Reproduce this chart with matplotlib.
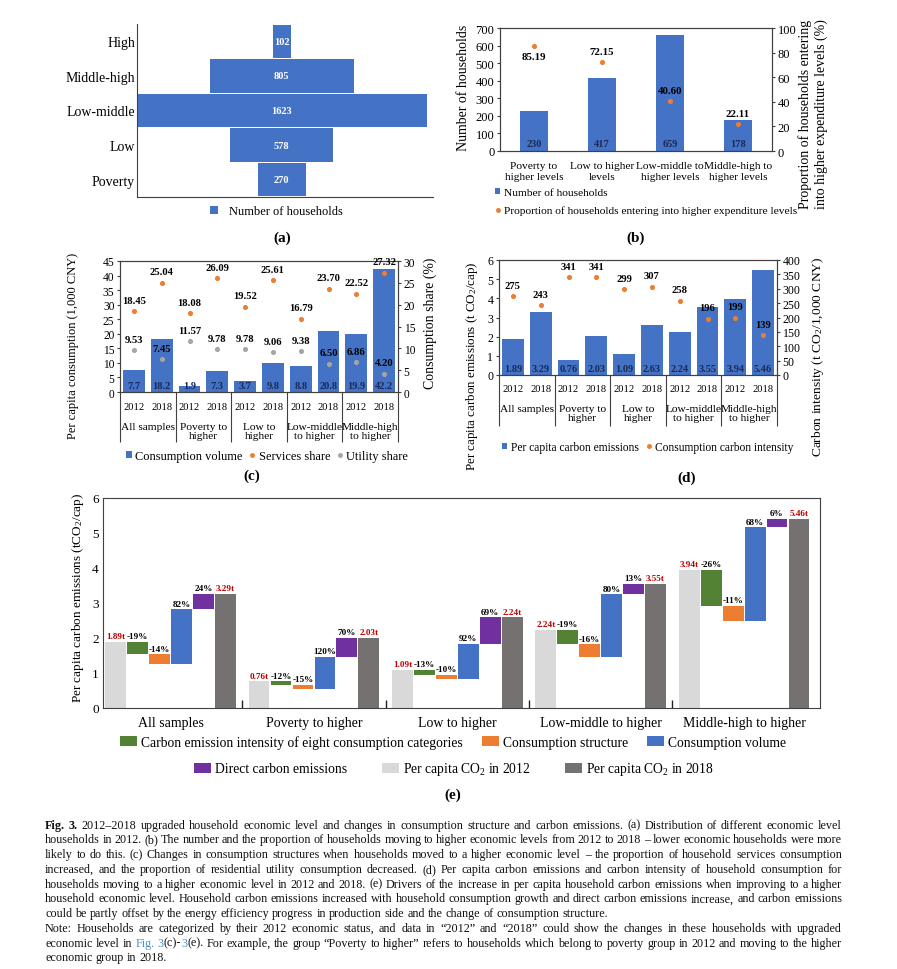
import numpy as np
import matplotlib
matplotlib.use('Agg')
import matplotlib.pyplot as plt
from matplotlib.lines import Line2D

plt.rcParams['font.family'] = ['Liberation Serif', 'DejaVu Serif']
plt.rcParams['mathtext.fontset'] = 'custom'
plt.rcParams['mathtext.rm'] = 'Liberation Serif'
plt.rcParams['mathtext.it'] = 'Liberation Serif:italic'
plt.rcParams['mathtext.bf'] = 'Liberation Serif:bold'

# (a) households by economic level in 2012
levels_a = ['Poverty', 'Low', 'Low-middle', 'Middle-high', 'High']
households_a = [270, 578, 1623, 805, 102]

# (b) households moving up
groups_b = ['Poverty to\nhigher levels', 'Low to higher\nlevels',
            'Low-middle to\nhigher levels', 'Middle-high to\nhigher levels']
moved_b = [230, 417, 659, 178]
moved_share_b = [85.19, 72.15, 40.60, 22.11]

# (c) and (d) share the two-level category axis
groups_cd = ['All samples', 'Poverty to\nhigher', 'Low to\nhigher',
             'Low-middle\nto higher', 'Middle-high\nto higher']
years = ['2012', '2018']
consumption_c = [7.7, 18.2, 1.9, 7.3, 3.7, 9.8, 8.8, 20.8, 19.9, 42.2]
services_c = [18.45, 25.04, 18.08, 26.09, 19.52, 25.61, 16.79, 23.70, 22.52, 27.32]
utility_c = [9.53, 7.45, 11.57, 9.78, 9.78, 9.06, 9.38, 6.50, 6.86, 4.20]
emissions_d = [1.89, 3.29, 0.76, 2.03, 1.09, 2.63, 2.24, 3.55, 3.94, 5.46]
intensity_d = [275, 243, 341, 341, 299, 307, 258, 196, 199, 139]

# (e) decomposition, percent of the 2012 level
groups_e = ['All samples', 'Poverty to higher', 'Low to higher',
            'Low-middle to higher', 'Middle-high to higher']
co2_2012_e = [1.89, 0.76, 1.09, 2.24, 3.94]
co2_2018_e = [3.29, 2.03, 2.24, 3.55, 5.46]   # as printed on the chart
intensity_pct_e = [-19, -12, -13, -19, -26]
structure_pct_e = [-14, -15, -10, -16, -11]
volume_pct_e = [82, 120, 92, 80, 68]
direct_pct_e = [24, 70, 69, 13, 6]

caption = [
    [('Fig. 3.', 'b'), (' 2012–2018 upgraded household economic level and changes in consumption structure and carbon emissions. (a) Distribution of different economic level', 'n')],
    [('households in 2012. (b) The number and the proportion of households moving to higher economic levels from 2012 to 2018 – lower economic households were more', 'n')],
    [('likely to do this. (c) Changes in consumption structures when households moved to a higher economic level – the proportion of household services consumption', 'n')],
    [('increased, and the proportion of residential utility consumption decreased. (d) Per capita carbon emissions and carbon intensity of household consumption for', 'n')],
    [('households moving to a higher economic level in 2012 and 2018. (e) Drivers of the increase in per capita household carbon emissions when improving to a higher', 'n')],
    [('household economic level. Household carbon emissions increased with household consumption growth and direct carbon emissions increase, and carbon emissions', 'n')],
    [('could be partly offset by the energy efficiency progress in production side and the change of consumption structure.', 'n')],
    [('Note: Households are categorized by their 2012 economic status, and data in “2012” and “2018” could show the changes in these households with upgraded', 'n')],
    [('economic level in ', 'n'), ('Fig. 3', 'l'), ('(c)-', 'n'), ('3', 'l'), ('(e). For example, the group “Poverty to higher” refers to households which belong to poverty group in 2012 and moving to the higher', 'n')],
    [('economic group in 2018.', 'n')],
]
caption_justified = [True, True, True, True, True, True, False, True, True, False]

BLUE = '#4472C4'
ORANGE = '#ED7D31'
GREY = '#A5A5A5'
NAVY = '#1B2A57'
SPINE = '#404040'
LINK = '#4A90C8'
E_COLORS = ['#D9D9D9', '#548235', '#ED7D31', '#4472C4', '#7030A0', '#767171']

W, H = 897, 970
fig = plt.figure(figsize=(W / 100, H / 100), dpi=100)


def px_box(b):
    x0, y0, x1, y1 = b
    return [x0 / W, 1 - y1 / H, (x1 - x0) / W, (y1 - y0) / H]


def set_ylab(ax, text, b, xpix, ypix, size, linespacing=1.2):
    ax.set_ylabel(text, fontsize=size, rotation=90, va='center', ha='center', linespacing=linespacing)
    ax.yaxis.set_label_coords((xpix - b[0]) / (b[2] - b[0]), (b[3] - ypix) / (b[3] - b[1]))


def frame(ax, sides=('left', 'right', 'top', 'bottom')):
    for s in ax.spines:
        ax.spines[s].set_visible(s in sides)
        ax.spines[s].set_color(SPINE)
        ax.spines[s].set_linewidth(0.8)


def panel_tag(text, x, y):
    fig.text(x / W, 1 - y / H, text, fontsize=11, fontweight='bold', ha='center', va='center')


# ---------------- (a) ----------------
box_a = (137, 25, 433, 198)
ax_a = fig.add_axes(px_box(box_a))
ya = np.arange(len(levels_a))
vals_a = np.array(households_a)
bars_a = ax_a.barh(ya, vals_a, left=-vals_a / 2, height=0.96, color=BLUE, label='Number of households')
for yi, v in zip(ya, households_a):
    ax_a.text(0, yi, str(v), color='white', fontsize=7.5, fontweight='bold', ha='center', va='center')
ax_a.set_ylim(-0.5, 4.5)
ax_a.set_xlim(-811.5, 847)
ax_a.set_xticks([])
ax_a.set_yticks(ya, levels_a, fontsize=10)
ax_a.tick_params(axis='y', length=0, pad=1.5)
frame(ax_a, ('left', 'bottom'))
ax_a.legend(handles=[bars_a], loc='center left', bbox_to_anchor=(210 / W, 1 - 212 / H),
            bbox_transform=fig.transFigure, frameon=False, fontsize=9,
            handlelength=0.6, handleheight=0.6, handletextpad=0.9, borderpad=0, borderaxespad=0)
panel_tag('(a)', 282, 238)

# ---------------- (b) ----------------
box_b = (500, 29, 772, 152)
ax_b = fig.add_axes(px_box(box_b))
xb = np.arange(len(groups_b))
bars_b = ax_b.bar(xb, moved_b, width=0.4, color=BLUE, label='Number of households')
for x, v in zip(xb, moved_b):
    ax_b.annotate(str(v), (x, 0), xytext=(0, 5.5), textcoords='offset points', ha='center', va='center',
                  fontsize=7.5, fontweight='bold', color=NAVY)
ax_b.set_xlim(-0.5, 3.5)
ax_b.set_ylim(0, 700)
ax_b.set_yticks(np.arange(0, 701, 100))
ax_b.set_xticks(xb, groups_b, fontsize=8.2, linespacing=1.3)
ax_b.tick_params(axis='x', length=0, pad=7)
ax_b.tick_params(axis='y', labelsize=9, length=2.5, pad=1.5, color=SPINE)
frame(ax_b)
set_ylab(ax_b, 'Number of households', box_b, 463, 88, 10)
ax_b2 = ax_b.twinx()
ax_b2.set_position(px_box(box_b))
ax_b2.set_ylim(0, 100)
ax_b2.set_yticks(np.arange(0, 101, 20))
ax_b2.tick_params(axis='y', labelsize=9, length=2.5, pad=1.5, color=SPINE)
dots_b = ax_b2.scatter(xb, moved_share_b, s=7, color=ORANGE, zorder=3,
                       label='Proportion of households entering into higher expenditure levels')
for x, v, off in zip(xb, moved_share_b, [-7.2, 7.6, 7.6, 7.6]):
    ax_b2.annotate(f'{v:.2f}', (x, v), xytext=(0, off), textcoords='offset points', ha='center', va='center',
                   fontsize=7.8, fontweight='bold')
frame(ax_b2)
set_ylab(ax_b2, 'Proportion of households entering\ninto higher expenditure levels (%)', box_b, 813, 114,
         10, linespacing=1.3)
dot_handle = Line2D([], [], ls='none', marker='o', ms=2.5, color=ORANGE)
ax_b2.legend([bars_b, dot_handle], [bars_b.get_label(), dots_b.get_label()], loc='upper left',
             bbox_to_anchor=(495 / W, 1 - 189 / H), bbox_transform=fig.transFigure, frameon=False,
             fontsize=8.2, handlelength=0.45, handleheight=0.45, handletextpad=0.3, labelspacing=0.75,
             borderpad=0, borderaxespad=0)
panel_tag('(b)', 636, 238)


# ---------------- (c) and (d) helpers ----------------
def two_level_axis(ax, b, year_pad, grp_off, sep_px):
    ax.set_xlim(-0.5, 9.5)
    ax.set_xticks(np.arange(10), years * len(groups_cd))
    ax.tick_params(axis='x', length=0, pad=year_pad, labelsize=7.6)
    for g, name in enumerate(groups_cd):
        ax.annotate(name, (2 * g + 0.5, 0), xycoords=('data', 'axes fraction'), xytext=(0, -grp_off),
                    textcoords='offset points', ha='center', va='top', fontsize=8.2, linespacing=1.05)
    ax.vlines(np.arange(-0.5, 10, 2), -sep_px / (b[3] - b[1]), 0, transform=ax.get_xaxis_transform(),
              clip_on=False, color=SPINE, lw=0.8)


def value_labels_base(ax, xs, vals, fmt):
    for x, v in zip(xs, vals):
        ax.annotate(fmt.format(v), (x, 0), xytext=(0, 4.8), textcoords='offset points', ha='center',
                    va='center', fontsize=7.5, fontweight='bold', color=NAVY)


def value_labels_above(ax, xs, vals, fmt):
    for x, v in zip(xs, vals):
        ax.annotate(fmt.format(v), (x, v), xytext=(0, 7.8), textcoords='offset points', ha='center',
                    va='center', fontsize=7.6, fontweight='bold')


# ---------------- (c) ----------------
box_c = (120, 262, 398, 393)
ax_c = fig.add_axes(px_box(box_c))
xc = np.arange(len(consumption_c))
bars_c = ax_c.bar(xc, consumption_c, width=0.78, color=BLUE, label='Consumption volume')
value_labels_base(ax_c, xc, consumption_c, '{:.1f}')
ax_c.set_ylim(0, 45)
ax_c.set_yticks(np.arange(0, 46, 5))
ax_c.tick_params(axis='y', labelsize=8.3, length=2.5, pad=1.5, color=SPINE)
two_level_axis(ax_c, box_c, 7, 21.5, 50)
frame(ax_c)
set_ylab(ax_c, 'Per capita consumption (1,000 CNY)', box_c, 73, 346, 9)
ax_c2 = ax_c.twinx()
ax_c2.set_position(px_box(box_c))
ax_c2.set_ylim(0, 30)
ax_c2.set_yticks(np.arange(0, 31, 5))
ax_c2.tick_params(axis='y', labelsize=8.3, length=2.5, pad=1.5, color=SPINE)
s_c = ax_c2.scatter(xc, services_c, s=7, color=ORANGE, zorder=3, label='Services share')
u_c = ax_c2.scatter(xc, utility_c, s=7, color=GREY, zorder=3, label='Utility share')
value_labels_above(ax_c2, xc, services_c, '{:.2f}')
value_labels_above(ax_c2, xc, utility_c, '{:.2f}')
frame(ax_c2)
set_ylab(ax_c2, 'Consumption share (%)', box_c, 430, 323, 9.9)
ax_c2.legend([bars_c, Line2D([], [], ls='none', marker='o', ms=2.5, color=ORANGE),
              Line2D([], [], ls='none', marker='o', ms=2.5, color=GREY)],
             [bars_c.get_label(), s_c.get_label(), u_c.get_label()], loc='center left',
             bbox_to_anchor=(126 / W, 1 - 457 / H), bbox_transform=fig.transFigure, frameon=False, ncol=3,
             fontsize=8.9, handlelength=0.45, handleheight=0.45, handletextpad=0.3, columnspacing=0.55,
             borderpad=0, borderaxespad=0)
panel_tag('(c)', 252, 476)

# ---------------- (d) ----------------
box_d = (499, 261, 777, 376)
ax_d = fig.add_axes(px_box(box_d))
xd = np.arange(len(emissions_d))
bars_d = ax_d.bar(xd, emissions_d, width=0.78, color=BLUE, label='Per capita carbon emissions')
value_labels_base(ax_d, xd, emissions_d, '{:.2f}')
ax_d.set_ylim(0, 6)
ax_d.set_yticks(np.arange(0, 7, 1))
ax_d.tick_params(axis='y', labelsize=8.6, length=2.5, pad=1.5, color=SPINE)
two_level_axis(ax_d, box_d, 6.3, 20.7, 51)
frame(ax_d)
set_ylab(ax_d, 'Per capita carbon emissions (t CO$_2$/cap)', box_d, 472, 366, 9.4)
ax_d2 = ax_d.twinx()
ax_d2.set_position(px_box(box_d))
ax_d2.set_ylim(0, 400)
ax_d2.set_yticks(np.arange(0, 401, 50))
ax_d2.tick_params(axis='y', labelsize=8.6, length=2.5, pad=1.5, color=SPINE)
i_d = ax_d2.scatter(xd, intensity_d, s=7, color=ORANGE, zorder=3, label='Consumption carbon intensity')
value_labels_above(ax_d2, xd, intensity_d, '{:d}')
frame(ax_d2)
set_ylab(ax_d2, 'Carbon intensity (t CO$_2$/1,000 CNY)', box_d, 818, 357, 9.7)
ax_d2.legend([bars_d, Line2D([], [], ls='none', marker='o', ms=2.5, color=ORANGE)],
             [bars_d.get_label(), i_d.get_label()], loc='center left',
             bbox_to_anchor=(502 / W, 1 - 448 / H), bbox_transform=fig.transFigure, frameon=False, ncol=2,
             fontsize=8.3, handlelength=0.45, handleheight=0.45, handletextpad=0.3, columnspacing=0.7,
             borderpad=0, borderaxespad=0)
panel_tag('(d)', 687, 478)

# ---------------- (e) ----------------
box_e = (103, 499, 820, 709)
ax_e = fig.add_axes(px_box(box_e))
base = np.array(co2_2012_e)
pcts = np.array([intensity_pct_e, structure_pct_e, volume_pct_e, direct_pct_e]) / 100.0
deltas = pcts * base
levels = np.vstack([base, base + np.cumsum(deltas, axis=0)])   # level before each step, then final
final = levels[-1]

pitch, width, start = 0.153, 0.145, 0.012
ge = np.arange(len(groups_e))


def slot_x(k):
    return ge - 0.5 + start + pitch * k + pitch / 2


names_e = ['Per capita CO$_2$ in 2012', 'Carbon emission intensity of eight consumption categories',
           'Consumption structure', 'Consumption volume', 'Direct carbon emissions', 'Per capita CO$_2$ in 2018']
handles_e = []
handles_e.append(ax_e.bar(slot_x(0), base, width=width, color=E_COLORS[0], label=names_e[0]))
for k in range(4):
    handles_e.append(ax_e.bar(slot_x(k + 1), deltas[k], bottom=levels[k], width=width,
                              color=E_COLORS[k + 1], label=names_e[k + 1]))
handles_e.append(ax_e.bar(slot_x(5), final, width=width, color=E_COLORS[5], label=names_e[5]))

lab_kw = dict(textcoords='offset points', xytext=(0, 1.2), ha='center', va='bottom', fontsize=6.6, fontweight='bold')
for g in range(len(groups_e)):
    ax_e.annotate(f'{co2_2012_e[g]:.2f}t', (slot_x(0)[g], base[g]), color='#C00000', **lab_kw)
    for k in range(4):
        top = max(levels[k][g], levels[k + 1][g])
        ax_e.annotate(f'{pcts[k][g] * 100:.0f}%', (slot_x(k + 1)[g], top), color='black', **lab_kw)
    ax_e.annotate(f'{co2_2018_e[g]:.2f}t', (slot_x(5)[g], final[g]), color='#C00000', **lab_kw)

ax_e.set_xlim(-0.5, 4.5)
ax_e.set_ylim(0, 6)
ax_e.set_yticks(np.arange(0, 7, 1))
ax_e.tick_params(axis='y', labelsize=9.5, length=0, pad=3)
ax_e.set_xticks(ge - 0.5 + start + 3 * pitch, groups_e, fontsize=10)
ax_e.set_xticks(ge[:-1] + 0.471, minor=True)
ax_e.tick_params(axis='x', which='major', length=0, pad=5.5)
ax_e.tick_params(axis='x', which='minor', direction='in', length=6, width=1, color='#222222')
frame(ax_e)
set_ylab(ax_e, 'Per capita carbon emissions (tCO$_2$/cap)', box_e, 78, 598, 9.5)

leg_kw = dict(bbox_transform=fig.transFigure, frameon=False, ncol=3, fontsize=9.8, handlelength=1.25,
              handleheight=0.8, handletextpad=0.3, borderpad=0, borderaxespad=0, loc='center left')
leg1 = ax_e.legend(handles_e[1:4], names_e[1:4], bbox_to_anchor=(120 / W, 1 - 743 / H),
                   columnspacing=1.4, **leg_kw)
ax_e.add_artist(leg1)
ax_e.legend([handles_e[4], handles_e[0], handles_e[5]], [names_e[4], names_e[0], names_e[5]],
            bbox_to_anchor=(194 / W, 1 - 770 / H), columnspacing=2.55, **leg_kw)
panel_tag('(e)', 453, 795)

# ---------------- caption, justified ----------------
renderer = fig.canvas.get_renderer()
cap_x0, cap_x1, cap_y0, cap_dy, cap_size = 45, 842, 825, 14.75, 8.7


def text_width(s, **kw):
    t = fig.text(0, 0, s, fontsize=cap_size, **kw)
    w = t.get_window_extent(renderer).width
    t.remove()
    return w


space_w = text_width('a a') - text_width('aa')

for i, (segs, just) in enumerate(zip(caption, caption_justified)):
    y = 1 - (cap_y0 + i * cap_dy + 3.6) / H   # baseline just under the line's centre
    words = [[]]
    for text, style in segs:
        for j, part in enumerate(text.split(' ')):
            if j > 0:
                words.append([])
            if part:
                words[-1].append((part, style))
    words = [w for w in words if w]
    placed = []
    for w in words:
        chunks = []
        for text, style in w:
            t = fig.text(0, y, text, fontsize=cap_size, va='baseline', ha='left',
                         fontweight='bold' if style == 'b' else 'normal',
                         color=LINK if style == 'l' else '#111111')
            chunks.append((t, t.get_window_extent(renderer).width))
        placed.append(chunks)
    widths = [sum(c[1] for c in chunks) for chunks in placed]
    gap = (cap_x1 - cap_x0 - sum(widths)) / (len(words) - 1) if just else space_w
    x = cap_x0
    for chunks, ww in zip(placed, widths):
        xx = x
        for t, cw in chunks:
            t.set_x(xx / W)
            xx += cw
        x += ww + gap

fig.savefig('out.png', dpi=100)
